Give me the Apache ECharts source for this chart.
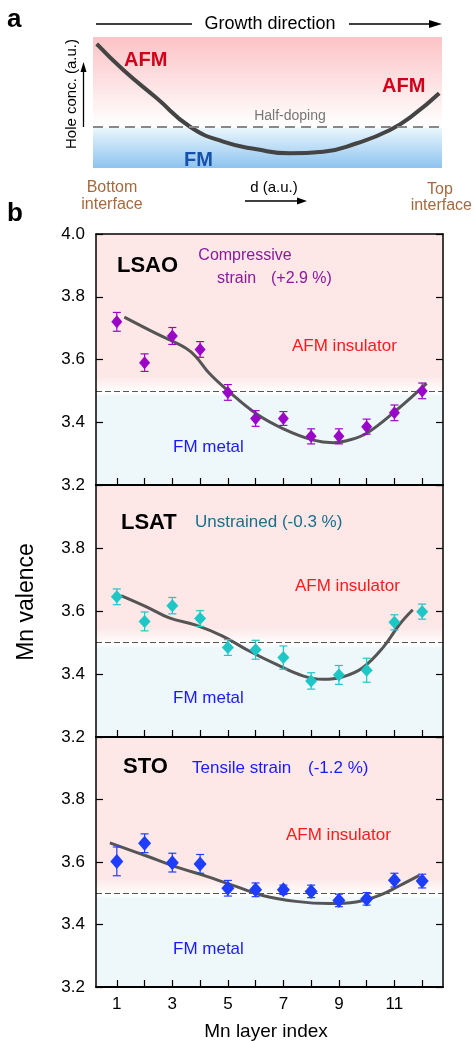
<!DOCTYPE html>
<html>
<head>
<meta charset="utf-8">
<script src="https://cdn.jsdelivr.net/npm/echarts@6/dist/echarts.min.js"></script>
<style>
  html, body { margin: 0; padding: 0; background: #fff; }
  #chart { width: 474px; height: 1041px; }
</style>
</head>
<body>
<div id="chart"></div>
<script>
// Mn layer index
const layers = [1, 2, 3, 4, 5, 6, 7, 8, 9, 10, 11, 12]
const tickLayers = [1, 2, 3, 4, 5, 6, 7, 8, 9, 10, 11, 12]
const labelLayers = [1, 3, 5, 7, 9, 11]

// LSAO (compressive)
const lsaoVal = [3.72, 3.59, 3.675, 3.632, 3.495, 3.412, 3.412, 3.355, 3.355, 3.386, 3.43, 3.5]
const lsaoErr = [0.03, 0.028, 0.027, 0.025, 0.025, 0.025, 0.022, 0.024, 0.024, 0.024, 0.025, 0.025]
const lsaoFitX = [1.27, 2.41, 3.49, 3.85, 4.33, 5.05, 6.01, 6.98, 8.08, 8.8, 9.28, 10.0, 11.08, 12.16]
const lsaoFitY = [3.735, 3.683, 3.636, 3.609, 3.556, 3.497, 3.428, 3.38, 3.343, 3.335, 3.341, 3.365, 3.439, 3.524]

// LSAT (unstrained)
const lsatVal = [3.645, 3.567, 3.617, 3.576, 3.484, 3.477, 3.452, 3.378, 3.397, 3.412, 3.564, 3.598]
const lsatErr = [0.025, 0.03, 0.026, 0.025, 0.025, 0.03, 0.037, 0.026, 0.03, 0.038, 0.024, 0.024]
const lsatFitX = [1.15, 2.05, 2.89, 3.85, 4.81, 5.77, 6.73, 7.7, 8.42, 9.14, 9.86, 10.58, 11.18, 11.66]
const lsatFitY = [3.649, 3.614, 3.578, 3.555, 3.52, 3.473, 3.431, 3.394, 3.383, 3.391, 3.42, 3.483, 3.557, 3.604]

// STO (tensile)
const stoVal = [3.602, 3.66, 3.598, 3.594, 3.516, 3.511, 3.511, 3.506, 3.477, 3.482, 3.542, 3.539]
const stoErr = [0.046, 0.03, 0.03, 0.03, 0.025, 0.022, 0.015, 0.02, 0.02, 0.02, 0.022, 0.022]
const stoFitX = [0.75, 2.05, 3.25, 4.21, 5.29, 6.25, 7.45, 8.65, 9.62, 10.46, 11.18, 11.9]
const stoFitY = [3.661, 3.62, 3.581, 3.555, 3.522, 3.493, 3.474, 3.467, 3.472, 3.493, 3.524, 3.557]

// panel a sketch curve (normalised 0-100)
const sketchX = [1.06, 8.7, 18.3, 27.8, 37.3, 46.9, 56.4, 66.0, 75.6, 85.1, 91.8, 99.2]
const sketchY = [94.7, 74.8, 53.2, 31.5, 20.1, 14.3, 11.2, 12.4, 18.9, 29.0, 40.5, 57.0]
const halfDoping = 31.3

const font = '"Liberation Sans", Arial, sans-serif'
const zip = (a, b) => a.map((v, i) => [v, b[i]])

const chart = echarts.init(document.getElementById("chart"), null, { renderer: "canvas" })

const panelGrids = [
  { left: 96, top: 234, width: 347, height: 251 },
  { left: 96, top: 485, width: 347, height: 252 },
  { left: 96, top: 737, width: 347, height: 250 },
]

const bgGradient = () =>
  new echarts.graphic.LinearGradient(0, 0, 0, 1, [
    { offset: 0, color: "#fde7e7" },
    { offset: 0.565, color: "#fde7e7" },
    { offset: 0.615, color: "#fff9f9" },
    { offset: 0.632, color: "#ffffff" },
    { offset: 0.648, color: "#eef7fa" },
    { offset: 1, color: "#eef7fa" },
  ])

const errorBars = (color) => (params, api) => {
  const x = api.value(0)
  const y = api.value(1)
  const e = api.value(2)
  const hi = api.coord([x, y + e])
  const lo = api.coord([x, y - e])
  const cap = 4
  const st = () => ({ stroke: color, lineWidth: 1.2 })
  return {
    type: "group",
    children: [
      { type: "line", shape: { x1: hi[0], y1: hi[1], x2: lo[0], y2: lo[1] }, style: st() },
      { type: "line", shape: { x1: hi[0] - cap, y1: hi[1], x2: hi[0] + cap, y2: hi[1] }, style: st() },
      { type: "line", shape: { x1: lo[0] - cap, y1: lo[1], x2: lo[0] + cap, y2: lo[1] }, style: st() },
    ],
  }
}

const panels = [
  { val: lsaoVal, err: lsaoErr, fx: lsaoFitX, fy: lsaoFitY, color: "#9a06c8", size: [11, 13] },
  { val: lsatVal, err: lsatErr, fx: lsatFitX, fy: lsatFitY, color: "#1fc6c6", size: [12, 13] },
  { val: stoVal, err: stoErr, fx: stoFitX, fy: stoFitY, color: "#1f3dff", size: [13, 15] },
]

const xAxes = [{ gridIndex: 0, type: "value", min: 0, max: 100, show: false }]
const yAxes = [{ gridIndex: 0, type: "value", min: 0, max: 100, show: false }]
panels.forEach((p, i) => {
  xAxes.push({
    gridIndex: i + 1,
    type: "value",
    min: 0.25,
    max: 12.75,
    z: 10,
    splitLine: { show: false },
    axisLine: { show: true, lineStyle: { color: "#000", width: 2 } },
    axisTick: { inside: true, length: 7, customValues: tickLayers, lineStyle: { color: "#000", width: 1.2 } },
    axisLabel: {
      show: i === 2,
      customValues: labelLayers,
      margin: 9,
      fontSize: 17,
      fontFamily: font,
      color: "#000",
    },
  })
  yAxes.push({
    gridIndex: i + 1,
    type: "value",
    min: 3.2,
    max: 4.0,
    interval: 0.2,
    z: 10,
    splitLine: { show: false },
    axisLine: { show: true, lineStyle: { color: "#000", width: 1.5 } },
    axisTick: { inside: true, length: 7, lineStyle: { color: "#000", width: 1.2 } },
    axisLabel: {
      margin: 11,
      fontSize: 17,
      fontFamily: font,
      color: "#000",
      showMaxLabel: i === 0,
      formatter: (v) => v.toFixed(1),
    },
  })
})
panels.forEach((p, i) => {
  xAxes.push({
    gridIndex: i + 1,
    type: "value",
    position: "top",
    min: 0.25,
    max: 12.75,
    z: 10,
    splitLine: { show: false },
    axisLine: { show: true, lineStyle: { color: "#000", width: 1.5 } },
    axisTick: { show: false },
    axisLabel: { show: false },
  })
  yAxes.push({
    gridIndex: i + 1,
    type: "value",
    position: "right",
    min: 3.2,
    max: 4.0,
    interval: 0.2,
    z: 10,
    splitLine: { show: false },
    axisLine: { show: true, lineStyle: { color: "#000", width: 1.5 } },
    axisTick: { inside: true, length: 7, lineStyle: { color: "#000", width: 1.2 } },
    axisLabel: { show: false },
  })
})

const series = [
  {
    type: "line",
    xAxisIndex: 0,
    yAxisIndex: 0,
    data: zip(sketchX, sketchY),
    smooth: 0.5,
    symbol: "none",
    lineStyle: { color: "#444", width: 4 },
    z: 3,
    markArea: {
      silent: true,
      itemStyle: {
        color: new echarts.graphic.LinearGradient(0, 0, 0, 1, [
          { offset: 0, color: "#fcc3c6" },
          { offset: 0.35, color: "#fde2e3" },
          { offset: 0.62, color: "#fffafa" },
          { offset: 0.685, color: "#ffffff" },
          { offset: 0.7, color: "#e9f5fd" },
          { offset: 1, color: "#8dc3ef" },
        ]),
      },
      data: [[{ yAxis: 100 }, { yAxis: 0 }]],
    },
    markLine: {
      silent: true,
      symbol: "none",
      label: { show: false },
      lineStyle: { color: "#888", type: [10, 6], width: 2 },
      data: [{ yAxis: halfDoping }],
    },
  },
]

panels.forEach((p, i) => {
  series.push({
    type: "line",
    xAxisIndex: i + 1,
    yAxisIndex: i + 1,
    data: zip(p.fx, p.fy),
    smooth: 0.4,
    symbol: "none",
    lineStyle: { color: "#555", width: 3 },
    z: 2,
    markArea: {
      silent: true,
      itemStyle: { color: bgGradient() },
      data: [[{ yAxis: 4.0 }, { yAxis: 3.2 }]],
    },
    markLine: {
      silent: true,
      symbol: "none",
      label: { show: false },
      lineStyle: { color: "#555", type: [6, 3], width: 1.2 },
      data: [{ yAxis: 3.5 }],
    },
  })
  series.push({
    type: "custom",
    xAxisIndex: i + 1,
    yAxisIndex: i + 1,
    renderItem: errorBars(p.color),
    data: layers.map((x, k) => [x, p.val[k], p.err[k]]),
    encode: { x: 0, y: 1 },
    z: 4,
  })
  series.push({
    type: "scatter",
    xAxisIndex: i + 1,
    yAxisIndex: i + 1,
    data: zip(layers, p.val),
    symbol: "diamond",
    symbolSize: p.size,
    itemStyle: { color: p.color, opacity: 1 },
    z: 5,
  })
})

const txt = (text, x, y, size, color, opts = {}) => ({
  type: "text",
  x,
  y,
  rotation: opts.rotation || 0,
  z: 100,
  style: {
    text,
    font: `${opts.bold ? "bold " : ""}${size}px ${font}`,
    fill: color,
    textAlign: opts.align || "left",
    textVerticalAlign: "middle",
  },
})
const seg = (x1, y1, x2, y2, w) => ({
  type: "line",
  z: 100,
  shape: { x1, y1, x2, y2 },
  style: { stroke: "#000", lineWidth: w || 1.5 },
})
const head = (pts) => ({ type: "polygon", z: 100, shape: { points: pts }, style: { fill: "#000" } })

const brown = "#a5693f"
const graphics = [
  txt("a", 7, 20, 26, "#000", { bold: true }),
  seg(96, 24, 192, 24),
  txt("Growth direction", 270, 24, 18, "#000", { align: "center" }),
  seg(349, 24, 432, 24),
  head([[442, 24], [429, 20], [429, 28]]),
  txt("AFM", 124, 60, 20, "#d0021b", { bold: true }),
  txt("AFM", 382, 86, 20, "#d0021b", { bold: true }),
  txt("Half-doping", 290, 116, 14, "#777", { align: "center" }),
  txt("FM", 184, 160, 20, "#1650aa", { bold: true }),
  txt("Hole conc. (a.u.)", 72, 94, 15, "#000", { align: "center", rotation: Math.PI / 2 }),
  seg(83.5, 127, 83.5, 70, 1.3),
  head([[83.5, 62], [80.5, 72], [86.5, 72]]),
  txt("Bottom", 112, 188, 16, brown, { align: "center" }),
  txt("interface", 112, 205, 16, brown, { align: "center" }),
  txt("Top", 440, 190, 16, brown, { align: "center" }),
  txt("interface", 472, 206, 16, brown, { align: "right" }),
  txt("d (a.u.)", 274, 188, 15, "#000", { align: "center" }),
  seg(245, 201, 298, 201, 1.3),
  head([[307, 201], [297, 197.5], [297, 204.5]]),

  txt("b", 7, 214, 26, "#000", { bold: true }),

  txt("LSAO", 117, 266, 22, "#000", { bold: true }),
  txt("Compressive", 245, 256, 16, "#8a1a9b", { align: "center" }),
  txt("strain", 217, 279, 16, "#8a1a9b"),
  txt("(+2.9 %)", 271, 279, 16, "#8a1a9b"),
  txt("AFM insulator", 292, 346, 17, "#ff1a1a"),
  txt("FM metal", 173, 447, 17, "#1a1aff"),

  txt("LSAT", 121, 523, 22, "#000", { bold: true }),
  txt("Unstrained (-0.3 %)", 195, 522, 17, "#1d6e8a"),
  txt("AFM insulator", 295, 586, 17, "#ff1a1a"),
  txt("FM metal", 173, 698, 17, "#1a1aff"),

  txt("STO", 123, 767, 22, "#000", { bold: true }),
  txt("Tensile strain", 192, 768, 17, "#1a1aff"),
  txt("(-1.2 %)", 308, 768, 17, "#1a1aff"),
  txt("AFM insulator", 286, 835, 17, "#ff1a1a"),
  txt("FM metal", 173, 949, 17, "#1a1aff"),

  txt("Mn valence", 27, 602, 23, "#000", { align: "center", rotation: Math.PI / 2 }),
  txt("Mn layer index", 266, 1032, 19, "#000", { align: "center" }),
]

const option = {
  animation: false,
  backgroundColor: "#fff",
  grid: [{ left: 93, top: 37, width: 349, height: 131 }, ...panelGrids],
  xAxis: xAxes,
  yAxis: yAxes,
  series,
  graphic: { elements: graphics },
}
option && chart.setOption(option)
</script>
</body>
</html>
